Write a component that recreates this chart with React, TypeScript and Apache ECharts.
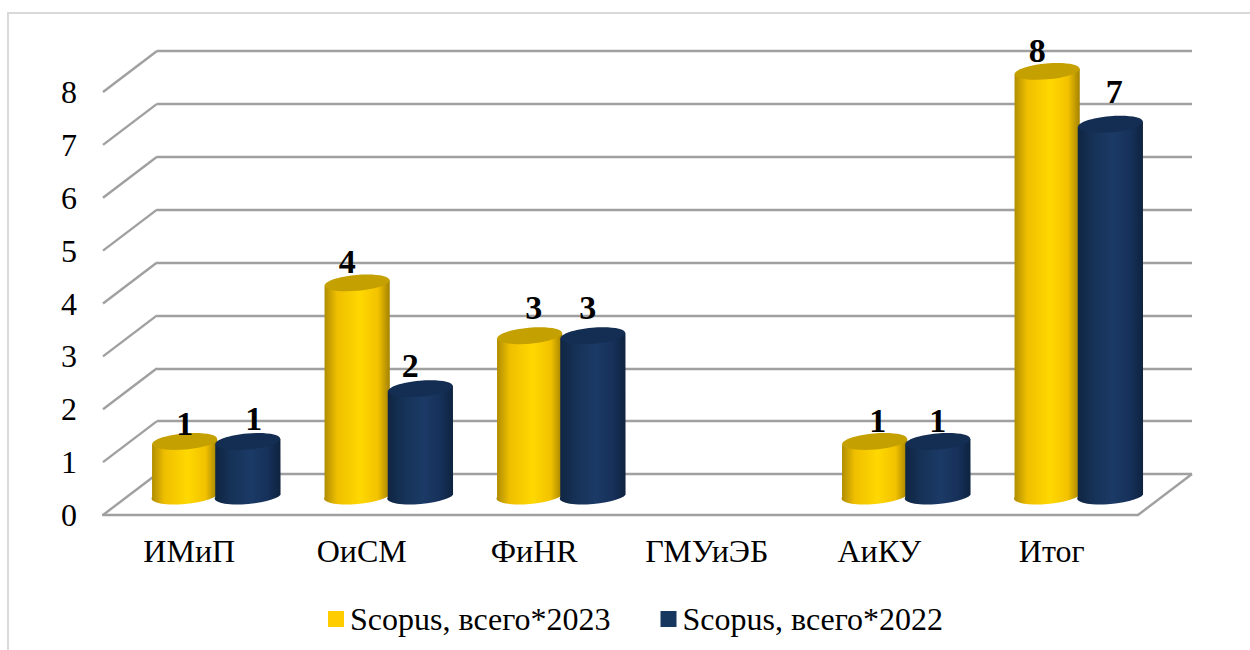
import React, { useEffect, useRef } from "react";
import * as echarts from "echarts";

const categories = ["ИМиП", "ОиСМ", "ФиHR", "ГМУиЭБ", "АиКУ", "Итог"];
const seriesNames = ["Scopus, всего*2023", "Scopus, всего*2022"];
const values2023: (number | null)[] = [1, 4, 3, null, 1, 8];
const values2022: (number | null)[] = [1, 2, 3, null, 1, 7];
const yTicks = [0, 1, 2, 3, 4, 5, 6, 7, 8];

// Layout only: hand-placed data label nudges [dx, dy] per category, as in the reference
const labelNudge2023 = [[0, -18], [-10, -21], [4, -28], [0, 0], [3, -21], [-10, -21]];
const labelNudge2022 = [[6, -23], [-10, -23], [-5, -28], [0, 0], [0, -21], [4, -33]];

const SERIF = "'Liberation Serif', 'Times New Roman', serif";
const DEPTH_X = 54;
const DEPTH_Y = -41;
const MID_X = 27;
const MID_Y = -20.6;
const RX = 32.6;
const RY = 8;
const TILT_DEG = 5;
const SIDE_D = 2.6;
const OFFSET = 31.6;

const yellowSide = () =>
  new echarts.graphic.LinearGradient(0, 0, 1, 0, [
    { offset: 0, color: "#AD8B00" },
    { offset: 0.2, color: "#EFBF00" },
    { offset: 0.55, color: "#FFD800" },
    { offset: 0.82, color: "#F2C200" },
    { offset: 1, color: "#A38200" },
  ]);
const navySide = () =>
  new echarts.graphic.LinearGradient(0, 0, 1, 0, [
    { offset: 0, color: "#0F2542" },
    { offset: 0.25, color: "#163257" },
    { offset: 0.55, color: "#1B3A66" },
    { offset: 0.8, color: "#16315A" },
    { offset: 1, color: "#0E2340" },
  ]);

function cylinder(side: number, nudge: number[][], sideFill: () => any, topFill: string) {
  return (params: any, api: any) => {
    const cat = api.value(0);
    const v = api.value(1);
    if (v == null || isNaN(v)) return null;
    const top = api.coord([cat, v]);
    const base = api.coord([cat, 0]);
    const cx = top[0] + MID_X + side * OFFSET;
    const cy = top[1] + MID_Y;
    const by = base[1] + MID_Y;
    const d =
      `M ${cx - RX} ${cy + SIDE_D} L ${cx - RX} ${by + SIDE_D} ` +
      `A ${RX} ${RY} ${-TILT_DEG} 0 0 ${cx + RX} ${by - SIDE_D} ` +
      `L ${cx + RX} ${cy - SIDE_D} Z`;
    const n = nudge[cat];
    return {
      type: "group",
      children: [
        { type: "path", shape: { pathData: d }, style: { fill: sideFill() } },
        {
          type: "ellipse",
          x: cx,
          y: cy,
          rotation: (TILT_DEG * Math.PI) / 180,
          shape: { cx: 0, cy: 0, rx: RX, ry: RY },
          style: { fill: topFill },
        },
        {
          type: "text",
          style: {
            text: String(v),
            x: cx + n[0],
            y: cy + n[1],
            textAlign: "center",
            textVerticalAlign: "middle",
            font: `bold 34px ${SERIF}`,
            fill: "#000",
          },
        },
      ],
    };
  };
}

const lineStyle = { stroke: "#A0A0A0", lineWidth: 2.4 };

function wallRender(params: any, api: any) {
  const v = api.value(0);
  const p = api.coord([0, v]);
  const x0 = api.coord([0, 0])[0] - (api.size([1, 0])[0] as number) / 2;
  return {
    type: "line",
    shape: { x1: x0, y1: p[1], x2: x0 + DEPTH_X, y2: p[1] + DEPTH_Y },
    style: lineStyle,
    z2: 0,
  };
}

function floorEdgeRender(params: any, api: any) {
  const p = api.coord([api.value(0), 0]);
  const x0 = p[0] + (api.size([1, 0])[0] as number) / 2;
  return {
    type: "line",
    shape: { x1: x0, y1: p[1], x2: x0 + DEPTH_X, y2: p[1] + DEPTH_Y },
    style: lineStyle,
  };
}

export default function App() {
  const ref = useRef<HTMLDivElement>(null);
  useEffect(() => {
    const chart = echarts.init(ref.current!, null, { renderer: "svg" });
    chart.setOption({
      animation: false,
      backgroundColor: "#fff",
      graphic: [
        {
          type: "rect",
          shape: { x: 8, y: 13, width: 1260, height: 660 },
          style: { fill: "none", stroke: "#D9D9D9", lineWidth: 2 },
          z: -1,
        },
      ],
      grid: [
        { left: 103, top: 92, width: 1035, height: 423 },
        { left: 157, top: 51, width: 1035, height: 423 },
      ],
      legend: {
        left: 323,
        top: 598,
        itemWidth: 16,
        itemHeight: 16,
        itemGap: 50,
        icon: "rect",
        data: [
          { name: seriesNames[0], itemStyle: { color: "#FFCC00" } },
          { name: seriesNames[1], itemStyle: { color: "#17375E" } },
        ],
        textStyle: { fontFamily: SERIF, fontSize: 32, color: "#000", padding: [0, 0, 0, 1] },
      },
      xAxis: [
        {
          gridIndex: 0,
          type: "category",
          data: categories,
          axisTick: { show: false },
          axisLine: { show: true, lineStyle: { color: "#A0A0A0", width: 2.4 } },
          axisLabel: { fontFamily: SERIF, fontSize: 32, color: "#000", margin: 20 },
        },
        {
          gridIndex: 1,
          type: "category",
          data: categories,
          show: false,
        },
      ],
      yAxis: [
        {
          gridIndex: 0,
          type: "value",
          min: 0,
          max: 8,
          interval: 1,
          axisLine: { show: false },
          axisTick: { show: false },
          splitLine: { show: false },
          axisLabel: { fontFamily: SERIF, fontSize: 32, color: "#000", margin: 26, padding: [0, 0, 3, 0] },
        },
        {
          gridIndex: 1,
          type: "value",
          min: 0,
          max: 8,
          interval: 1,
          axisLine: { show: false },
          axisTick: { show: false },
          axisLabel: { show: false },
          splitLine: { show: true, lineStyle: { color: "#A0A0A0", width: 2.4 } },
        },
      ],
      series: [
        {
          type: "custom",
          name: "walls",
          xAxisIndex: 0,
          yAxisIndex: 0,
          silent: true,
          renderItem: wallRender,
          data: yTicks.map((t) => [t]),
          encode: { y: 0 },
          z: 1,
        },
        {
          type: "custom",
          name: "floorEdge",
          xAxisIndex: 0,
          yAxisIndex: 0,
          silent: true,
          renderItem: floorEdgeRender,
          data: [[categories.length - 1]],
          encode: { x: 0 },
          z: 1,
        },
        {
          type: "custom",
          name: seriesNames[0],
          xAxisIndex: 0,
          yAxisIndex: 0,
          itemStyle: { color: "#FFCC00" },
          renderItem: cylinder(-1, labelNudge2023, yellowSide, "#C4A000"),
          data: values2023.map((v, i) => [i, v]),
          encode: { x: 0, y: 1 },
          clip: false,
          z: 3,
        },
        {
          type: "custom",
          name: seriesNames[1],
          xAxisIndex: 0,
          yAxisIndex: 0,
          itemStyle: { color: "#17375E" },
          renderItem: cylinder(1, labelNudge2022, navySide, "#132E52"),
          data: values2022.map((v, i) => [i, v]),
          encode: { x: 0, y: 1 },
          clip: false,
          z: 4,
        },
      ],
    });
    return () => chart.dispose();
  }, []);
  return (
    <div
      ref={ref}
      style={{ position: "fixed", left: 0, top: 0, width: 1250, height: 650, overflow: "hidden" }}
    />
  );
}
